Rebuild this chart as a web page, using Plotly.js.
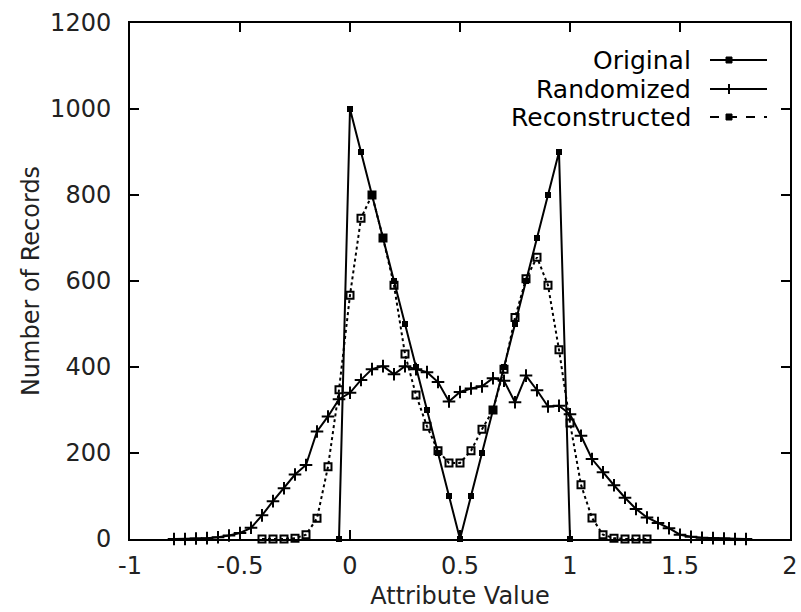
<!DOCTYPE html>
<html>
<head>
<meta charset="utf-8">
<script src="https://cdn.plot.ly/plotly-3.0.1.min.js"></script>
<style>html,body{margin:0;padding:0;background:#fff}#chart{width:801px;height:612px}</style>
</head>
<body>
<div id="chart"></div>
<script>
// ---- data ----
const seriesNames = ["Original", "Randomized", "Reconstructed"];

const originalX = [-0.05, 0, 0.05, 0.1, 0.15, 0.2, 0.25, 0.3, 0.35, 0.4, 0.45, 0.5,
  0.55, 0.6, 0.65, 0.7, 0.75, 0.8, 0.85, 0.9, 0.95, 1.0];
const originalY = [0, 1000, 900, 800, 700, 600, 500, 400, 300, 200, 100, 0,
  100, 200, 300, 400, 500, 600, 700, 800, 900, 0];

const randomizedX = [-0.8, -0.75, -0.7, -0.65, -0.6, -0.55, -0.5, -0.45, -0.4, -0.35, -0.3, -0.25,
  -0.2, -0.15, -0.1, -0.05, 0, 0.05, 0.1, 0.15, 0.2, 0.25, 0.3, 0.35, 0.4, 0.45, 0.5, 0.55,
  0.6, 0.65, 0.7, 0.75, 0.8, 0.85, 0.9, 0.95, 1.0, 1.05, 1.1, 1.15, 1.2, 1.25, 1.3, 1.35,
  1.4, 1.45, 1.5, 1.55, 1.6, 1.65, 1.7, 1.75, 1.8];
const randomizedY = [0, 0, 1, 2, 4, 8, 14, 26, 55, 88, 118, 150,
  172, 250, 285, 325, 340, 370, 395, 402, 383, 402, 395, 388, 365, 320, 342, 350,
  355, 374, 368, 318, 380, 346, 308, 310, 290, 240, 186, 155, 125, 96, 70, 50,
  37, 25, 10, 5, 3, 2, 1, 0, 0];

const reconstructedX = [-0.4, -0.35, -0.3, -0.25, -0.2, -0.15, -0.1, -0.05, 0, 0.05, 0.1, 0.15,
  0.2, 0.25, 0.3, 0.35, 0.4, 0.45, 0.5, 0.55, 0.6, 0.65, 0.7, 0.75, 0.8, 0.85, 0.9, 0.95,
  1.0, 1.05, 1.1, 1.15, 1.2, 1.25, 1.3, 1.35];
const reconstructedY = [0, 0, 0, 2, 10, 48, 168, 347, 567, 746, 800, 700,
  590, 430, 335, 262, 205, 177, 177, 205, 255, 300, 395, 515, 605, 655, 590, 440,
  270, 126, 49, 10, 2, 0, 0, 0];

const xTickValues = [-1, -0.5, 0, 0.5, 1, 1.5, 2];
const xTickLabels = ["-1", "-0.5", "0", "0.5", "1", "1.5", "2"];
const yTickValues = [0, 200, 400, 600, 800, 1000, 1200];
const yTickLabels = ["0", "200", "400", "600", "800", "1000", "1200"];

const xTitle = "Attribute Value";
const yTitle = "Number of Records";

// ---- layout constants ----
const W = 801, H = 612;
const M = {l: 130, r: 11, t: 23, b: 73};
const FONT = "DejaVu Sans, Liberation Sans, Arial, sans-serif";
const INK = "#000";

function px2x(px) { return (px - M.l) / (W - M.l - M.r); }
function py2y(py) { return (H - M.b - py) / (H - M.t - M.b); }

const traces = [
  {
    name: seriesNames[0], x: originalX, y: originalY, type: "scatter", mode: "lines+markers",
    line: {color: INK, width: 2},
    marker: {symbol: "square", size: 6, color: INK},
    showlegend: false, cliponaxis: false
  },
  {
    name: seriesNames[1], x: randomizedX, y: randomizedY, type: "scatter", mode: "lines+markers",
    line: {color: INK, width: 2},
    marker: {symbol: "cross-thin", size: 9, color: INK, line: {color: INK, width: 2}},
    showlegend: false, cliponaxis: false
  },
  {
    name: seriesNames[2], x: reconstructedX, y: reconstructedY, type: "scatter", mode: "lines+markers",
    line: {color: INK, width: 2, dash: "dot"},
    marker: {symbol: "square-open", size: 7, color: INK, line: {color: INK, width: 2}},
    showlegend: false, cliponaxis: false
  }
];

// gnuplot-style key: right-aligned text, sample on the right
const keyRows = [60, 89, 117];
const keyTextRight = 693, keyL0 = 710, keyL1 = 767, keyMark = 729;
const annotations = [];
const shapes = [];
seriesNames.forEach((name, i) => {
  const yy = py2y(keyRows[i]);
  annotations.push({
    text: name, xref: "paper", yref: "paper", x: px2x(keyTextRight), y: yy,
    xanchor: "right", yanchor: "middle", showarrow: false,
    font: {family: FONT, size: 25, color: INK}
  });
  shapes.push({
    type: "line", xref: "paper", yref: "paper",
    x0: px2x(keyL0), x1: px2x(keyL1), y0: yy, y1: yy,
    line: {color: INK, width: 2, dash: i === 2 ? "dash" : "solid"}
  });
  if (i === 1) {
    shapes.push({type: "line", xref: "paper", yref: "paper", xsizemode: "pixel", ysizemode: "pixel",
      xanchor: px2x(keyMark), yanchor: yy, x0: -5, x1: 5, y0: 0, y1: 0, line: {color: INK, width: 2}});
    shapes.push({type: "line", xref: "paper", yref: "paper", xsizemode: "pixel", ysizemode: "pixel",
      xanchor: px2x(keyMark), yanchor: yy, x0: 0, x1: 0, y0: -5, y1: 5, line: {color: INK, width: 2}});
  } else {
    shapes.push({type: "rect", xref: "paper", yref: "paper", xsizemode: "pixel", ysizemode: "pixel",
      xanchor: px2x(keyMark), yanchor: yy, x0: -3, x1: 3, y0: -3, y1: 3,
      fillcolor: INK, line: {color: INK, width: 1}});
  }
});

const axisCommon = {
  showline: true, linecolor: INK, linewidth: 2, mirror: "ticks",
  ticks: "inside", ticklen: 9, tickwidth: 2, tickcolor: INK,
  showgrid: false, zeroline: false,
  tickfont: {family: FONT, size: 24, color: "#222"},
  tickmode: "array"
};

const layout = {
  width: W, height: H,
  margin: M,
  paper_bgcolor: "#fff", plot_bgcolor: "#fff",
  showlegend: false,
  xaxis: Object.assign({}, axisCommon, {
    range: [-1, 2], tickvals: xTickValues, ticktext: xTickLabels,
    ticklabelstandoff: 4,
    title: {text: xTitle, font: {family: FONT, size: 24, color: "#222"}, standoff: 8}
  }),
  yaxis: Object.assign({}, axisCommon, {
    range: [0, 1200], tickvals: yTickValues, ticktext: yTickLabels,
    ticklabelstandoff: 12,
    title: {text: yTitle, font: {family: FONT, size: 24, color: "#222"}, standoff: 4}
  }),
  annotations: annotations,
  shapes: shapes
};

Plotly.newPlot("chart", traces, layout, {staticPlot: true, displayModeBar: false});
</script>
</body>
</html>
